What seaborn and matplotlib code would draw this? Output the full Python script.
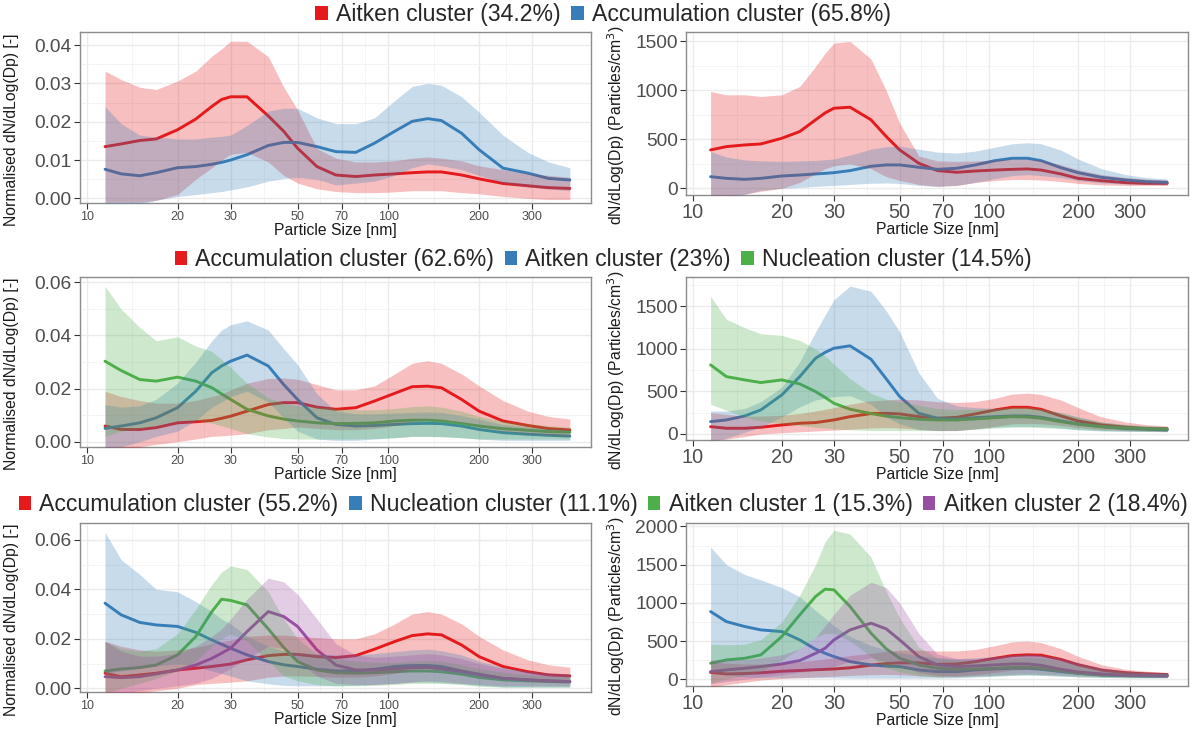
import numpy as np
import pandas as pd
import matplotlib
matplotlib.use("Agg")
import matplotlib.pyplot as plt
import seaborn as sns
from matplotlib.patches import Patch
from matplotlib.ticker import FixedLocator, FixedFormatter, NullFormatter

sns.set_theme(style="white")
plt.rcParams["font.family"] = ["Liberation Sans", "DejaVu Sans"]

# ---------------------------------------------------------------- data
size_nm = [11.5, 13, 15, 17, 20, 23, 26, 28, 30, 34, 40, 45, 50, 58, 67, 78,
           90, 105, 120, 135, 150, 175, 200, 240, 290, 340, 400]

x_breaks = [10, 20, 30, 50, 70, 100, 200, 300]

# --- two-cluster solution
k2_labels = ["Aitken cluster (34.2%)", "Accumulation cluster (65.8%)"]
k2_norm_aitken = [.0135, .0142, .0151, .0155, .0179, .0207, .024, .0258, .0265, .0265, .0215, .0175, .0131, .0083, .0061, .0057,
                  .0061, .0064, .0067, .0069, .0069, .0061, .0051, .0039, .0033, .0028, .0026]
k2_norm_aitken_hi = [.0332, .031, .029, .0284, .0306, .0332, .0371, .039, .041, .041, .037, .029, .0231, .013, .0105, .0095,
                     .0095, .0098, .0105, .0108, .0105, .0098, .0085, .0075, .0065, .006, .0055]
k2_norm_aitken_lo = [-.001, -.001, -.001, -.0005, .001, .005, .008, .010, .0115, .012, .0095, .006, .004, .0025, .0018, .0015,
                     .0015, .0017, .002, .002, .002, .0015, .0012, .0005, 0, -.0003, -.0003]
k2_norm_accum = [.0076, .0064, .0059, .0067, .008, .0083, .0089, .0094, .010, .0114, .0138, .0146, .0146, .0135, .0122, .012,
                 .0144, .0175, .0201, .0208, .0203, .017, .0127, .0079, .0066, .0052, .0048]
k2_norm_accum_hi = [.024, .0195, .0165, .016, .0155, .0155, .016, .0162, .0165, .019, .0228, .0235, .0235, .021, .0195, .0195,
                    .021, .0255, .0292, .030, .0295, .0265, .0225, .0165, .012, .0095, .008]
k2_norm_accum_lo = [-.006, -.004, -.0015, -.0005, .0005, .001, .0015, .0018, .0022, .003, .0045, .0052, .0055, .005, .0035, .004,
                    .0045, .006, .008, .009, .0085, .0075, .006, .004, .003, .0025, .002]

k2_abs_aitken = [392, 426, 443, 453, 511, 580, 699, 770, 818, 828, 700, 530, 392, 256, 181, 164,
                 177, 187, 194, 198, 187, 147, 102, 78, 58, 51, 51]
k2_abs_aitken_hi = [989, 955, 955, 938, 955, 1040, 1244, 1380, 1483, 1500, 1320, 1000, 665, 330, 280, 275,
                    280, 290, 300, 300, 290, 240, 190, 140, 110, 95, 85]
k2_abs_aitken_lo = [-80, -80, -60, -30, 0, 60, 150, 200, 230, 250, 200, 120, 80, 40, 20, 30,
                    60, 80, 90, 90, 85, 70, 50, 35, 30, 30, 30]
k2_abs_accum = [119, 102, 92, 102, 126, 136, 147, 153, 160, 181, 225, 239, 239, 215, 194, 205,
                239, 283, 307, 307, 283, 211, 160, 112, 85, 68, 61]
k2_abs_accum_hi = [375, 320, 290, 280, 275, 280, 285, 292, 300, 340, 400, 425, 430, 400, 370, 360,
                   380, 420, 455, 465, 455, 390, 300, 200, 140, 110, 95]
k2_abs_accum_lo = [-150, -120, -60, -20, 0, 10, 20, 25, 30, 40, 52, 55, 50, 30, 20, 30,
                   60, 100, 130, 140, 130, 110, 80, 55, 45, 40, 35]

# --- three-cluster solution
k3_labels = ["Accumulation cluster (62.6%)", "Aitken cluster (23%)", "Nucleation cluster (14.5%)"]
k3_norm_accum = [.0059, .0046, .0046, .0053, .0071, .0075, .008, .0088, .0096, .0115, .014, .0147, .0147, .013, .0122, .0128,
                 .0153, .0182, .0207, .0209, .0203, .0159, .0115, .0078, .0061, .0049, .0044]
k3_norm_accum_hi = [.019, .017, .0155, .0145, .0145, .0155, .017, .018, .0195, .022, .0238, .024, .0235, .0215, .0195, .0195,
                    .021, .0255, .0295, .0305, .0295, .0255, .021, .0155, .0115, .0095, .0085]
k3_norm_accum_lo = [-.005, -.004, -.002, -.001, 0, .001, .002, .0022, .0025, .003, .0045, .005, .0055, .005, .0045, .0045,
                    .005, .006, .0075, .008, .0078, .007, .0055, .004, .003, .0025, .002]
k3_norm_aitken = [.005, .0059, .0071, .009, .0128, .019, .026, .0285, .0303, .0326, .0285, .0215, .0159, .009, .0065, .0059,
                  .0061, .0065, .0068, .0069, .0068, .0059, .0046, .0034, .0028, .0024, .0021]
k3_norm_aitken_hi = [.014, .013, .0135, .016, .022, .030, .038, .042, .044, .0455, .042, .035, .029, .018, .0115, .0105,
                     .0105, .0108, .011, .0112, .011, .0098, .0085, .0065, .0055, .005, .0045]
k3_norm_aitken_lo = [-.003, -.002, 0, .002, .004, .008, .013, .015, .017, .019, .015, .009, .004, .001, .0005, .0005,
                     .001, .0015, .002, .002, .002, .0015, .001, .0005, .0005, .0005, .0005]
k3_norm_nucl = [.0303, .0268, .0234, .0228, .0243, .0228, .0203, .018, .0159, .0122, .0097, .0085, .0078, .0071, .0068, .0069,
                .0071, .0078, .0081, .0081, .0078, .0068, .0059, .0049, .0043, .0038, .0036]
k3_norm_nucl_hi = [.0585, .05, .043, .038, .0395, .036, .034, .031, .028, .022, .0165, .0145, .0135, .013, .0125, .012,
                   .012, .0125, .0132, .0135, .013, .0115, .0095, .0078, .0068, .006, .0055]
k3_norm_nucl_lo = [.002, .004, .005, .006, .008, .008, .007, .006, .005, .003, .0018, .0012, .001, .001, .001, .001,
                   .0012, .0015, .002, .002, .0018, .0015, .001, .001, .001, .001, .001]

k3_abs_accum = [86, 67, 67, 79, 106, 126, 134, 150, 165, 204, 240, 243, 236, 204, 185, 196,
                236, 283, 314, 314, 290, 212, 153, 106, 79, 63, 59]
k3_abs_accum_hi = [250, 230, 210, 210, 220, 240, 270, 290, 310, 350, 390, 400, 410, 400, 380, 370,
                   380, 420, 470, 480, 465, 400, 310, 200, 140, 110, 95]
k3_abs_accum_lo = [-80, -60, -30, 0, 15, 25, 35, 40, 45, 55, 70, 75, 70, 55, 40, 40,
                   60, 90, 120, 125, 120, 100, 75, 50, 40, 35, 30]
k3_abs_aitken = [145, 165, 212, 283, 459, 675, 891, 960, 1009, 1037, 880, 650, 440, 243, 185, 177,
                 192, 204, 212, 212, 196, 153, 118, 86, 63, 55, 47]
k3_abs_aitken_hi = [270, 270, 300, 380, 550, 850, 1200, 1400, 1580, 1740, 1680, 1450, 1200, 720, 420, 330,
                    310, 300, 300, 300, 290, 250, 200, 140, 110, 95, 85]
k3_abs_aitken_lo = [-100, -50, 20, 80, 200, 320, 400, 420, 440, 450, 350, 200, 120, 50, 40, 40,
                    60, 80, 90, 90, 85, 70, 50, 35, 30, 30, 25]
k3_abs_nucl = [813, 675, 636, 605, 636, 589, 499, 430, 361, 291, 240, 210, 192, 173, 165, 165,
               177, 192, 204, 200, 185, 145, 114, 86, 71, 63, 59]
k3_abs_nucl_hi = [1620, 1350, 1250, 1180, 1160, 1100, 1000, 920, 820, 650, 480, 410, 380, 340, 300, 290,
                  290, 300, 320, 320, 300, 250, 200, 140, 110, 95, 85]
k3_abs_nucl_lo = [350, 280, 200, 150, 120, 100, 80, 70, 60, 50, 40, 40, 40, 40, 40, 45,
                  55, 70, 80, 80, 75, 65, 50, 40, 35, 30, 30]

# --- four-cluster solution
k4_labels = ["Accumulation cluster (55.2%)", "Nucleation cluster (11.1%)",
             "Aitken cluster 1 (15.3%)", "Aitken cluster 2 (18.4%)"]
k4_norm_accum = [.0061, .0047, .0054, .0061, .0074, .0081, .0088, .0093, .0098, .0115, .0132, .0137, .0137, .0128, .0124, .0132,
                 .0158, .0189, .0213, .022, .0216, .0175, .0128, .0088, .0067, .0054, .005]
k4_norm_accum_hi = [.019, .017, .0155, .015, .0155, .0165, .018, .019, .0195, .021, .0215, .0215, .021, .0205, .020, .020,
                    .022, .026, .030, .031, .030, .026, .021, .0155, .0115, .0095, .0085]
k4_norm_accum_lo = [-.004, -.003, -.002, -.001, 0, .0015, .002, .0022, .0025, .003, .0045, .005, .005, .0048, .0045, .0045,
                    .005, .006, .0075, .008, .0078, .007, .0055, .004, .003, .0025, .002]
k4_norm_nucl = [.0344, .0297, .0266, .0256, .025, .0226, .0195, .0178, .0162, .0135, .0108, .0095, .0088, .0077, .007, .007,
                .0077, .0088, .0092, .0092, .0088, .007, .0057, .004, .0034, .003, .0027]
k4_norm_nucl_hi = [.063, .052, .046, .040, .039, .035, .031, .028, .026, .021, .017, .0152, .0145, .014, .0135, .0135,
                   .014, .0148, .0155, .0158, .0152, .0135, .011, .0085, .007, .0062, .0058]
k4_norm_nucl_lo = [.006, .007, .008, .009, .010, .009, .007, .006, .005, .003, .0018, .0012, .001, .001, .001, .0012,
                   .0015, .002, .0025, .0025, .0022, .0018, .0012, .0005, .0005, .0005, .0005]
k4_norm_ait1 = [.007, .0078, .0084, .0094, .0135, .0209, .031, .036, .0355, .0337, .024, .0165, .0108, .0074, .0063, .0061,
                .0063, .0067, .007, .007, .0067, .0057, .0044, .0034, .003, .0027, .0026]
k4_norm_ait1_hi = [.019, .016, .015, .016, .022, .032, .042, .047, .0495, .048, .039, .028, .020, .014, .012, .011,
                   .0105, .0105, .011, .0112, .011, .0095, .008, .0065, .0055, .005, .0048]
k4_norm_ait1_lo = [-.002, 0, .002, .004, .007, .011, .017, .020, .022, .019, .011, .005, .003, .0015, .001, .001,
                   .0012, .0015, .002, .002, .002, .0015, .0008, .0005, .0005, .0005, .0005]
k4_norm_ait2 = [.0047, .0043, .0047, .0058, .0074, .0094, .0121, .0142, .0162, .0229, .031, .029, .025, .0155, .0094, .0074,
                .0074, .0078, .0084, .0084, .0078, .0067, .0054, .004, .0034, .003, .0027]
k4_norm_ait2_hi = [.019, .015, .013, .013, .014, .017, .021, .024, .028, .036, .0445, .043, .038, .028, .018, .0135,
                   .0125, .013, .0135, .014, .0135, .012, .010, .008, .0065, .006, .0055]
k4_norm_ait2_lo = [-.003, -.002, -.001, 0, .001, .002, .004, .006, .008, .012, .017, .016, .011, .005, .002, .0015,
                   .0015, .002, .0025, .003, .0028, .002, .0015, .001, .001, .001, .001]

k4_abs_accum = [90, 70, 75, 85, 105, 115, 125, 130, 135, 150, 185, 205, 215, 215, 195, 200,
                230, 275, 310, 320, 315, 260, 190, 120, 85, 70, 62]
k4_abs_accum_hi = [230, 210, 200, 200, 210, 230, 250, 265, 280, 310, 340, 365, 380, 380, 370, 370,
                   390, 440, 490, 500, 480, 400, 300, 190, 130, 105, 90]
k4_abs_accum_lo = [-100, -70, -40, -10, 10, 20, 30, 35, 40, 50, 60, 63, 60, 45, 35, 40,
                   60, 90, 120, 130, 125, 100, 75, 50, 40, 35, 30]
k4_abs_nucl = [886, 755, 690, 646, 624, 515, 393, 340, 297, 231, 188, 172, 166, 122, 100, 100,
               122, 135, 144, 144, 131, 100, 79, 57, 48, 44, 44]
k4_abs_nucl_hi = [1730, 1500, 1370, 1300, 1200, 1080, 900, 800, 700, 560, 440, 390, 350, 310, 280, 270,
                  280, 300, 320, 330, 320, 280, 220, 150, 110, 95, 85]
k4_abs_nucl_lo = [100, 60, 30, 20, 20, 20, 20, 20, 20, 15, 15, 15, 15, 15, 15, 20,
                  30, 40, 50, 55, 50, 40, 30, 25, 20, 20, 20]
k4_abs_ait1 = [210, 253, 275, 319, 559, 843, 1083, 1179, 1170, 952, 603, 400, 275, 188, 144, 131,
               135, 144, 157, 157, 144, 109, 79, 57, 48, 44, 44]
k4_abs_ait1_hi = [460, 450, 460, 520, 750, 1100, 1500, 1800, 1950, 1900, 1600, 1150, 800, 420, 280, 250,
                  250, 260, 280, 290, 280, 240, 190, 130, 100, 85, 80]
k4_abs_ait1_lo = [-50, 0, 50, 100, 250, 400, 550, 600, 600, 500, 300, 150, 100, 50, 30, 30,
                  35, 45, 55, 60, 55, 45, 35, 25, 20, 20, 20]
k4_abs_ait2 = [100, 122, 144, 166, 201, 245, 340, 406, 515, 646, 734, 660, 515, 297, 188, 166,
               175, 188, 201, 201, 183, 131, 96, 70, 52, 48, 44]
k4_abs_ait2_hi = [250, 250, 260, 280, 320, 400, 550, 700, 850, 1100, 1270, 1200, 1000, 600, 330, 270,
                  270, 290, 310, 320, 310, 260, 200, 140, 105, 90, 80]
k4_abs_ait2_lo = [-60, -30, 0, 30, 60, 90, 120, 140, 170, 230, 280, 230, 180, 90, 50, 40,
                  45, 55, 65, 70, 65, 55, 45, 35, 30, 25, 25]

# ---------------------------------------------------------------- style
SET1 = ["#E41A1C", "#377EB8", "#4DAF4A", "#984EA3"]
W, H = 1196, 735
GRID_MAJOR = "#EBEBEB"
GRID_MINOR = "#F3F3F3"
BORDER = "#8C8C8C"
TICKTXT = "#4D4D4D"


def box(l, t, r, b):
    return [l / W, 1 - b / H, (r - l) / W, (b - t) / H]


def draw_panel(ax, series, labels, ylim, yticks, yminor, ytick_fmt, small_x):
    ax.set_xscale("log")
    long = []
    for lab, (mean, lo, hi) in zip(labels, series):
        long.append(pd.DataFrame({"size": size_nm, "value": mean, "cluster": lab}))
    df = pd.concat(long, ignore_index=True)
    pal = dict(zip(labels, SET1[:len(labels)]))
    sns.lineplot(data=df, x="size", y="value", hue="cluster", palette=pal,
                 estimator=None, sort=False, lw=2.1, legend=False, ax=ax, zorder=3)
    for lab, (mean, lo, hi) in zip(labels, series):
        ax.fill_between(size_nm, lo, hi, color=pal[lab], alpha=0.28, lw=0, zorder=4)

    ax.set_xlim(9.5, 470)
    ax.set_ylim(*ylim)
    minor_x = [np.sqrt(a * b) for a, b in zip(x_breaks[:-1], x_breaks[1:])]
    ax.xaxis.set_major_locator(FixedLocator(x_breaks))
    ax.xaxis.set_major_formatter(FixedFormatter([str(v) for v in x_breaks]))
    ax.xaxis.set_minor_locator(FixedLocator(minor_x))
    ax.xaxis.set_minor_formatter(NullFormatter())
    ax.yaxis.set_major_locator(FixedLocator(yticks))
    ax.yaxis.set_major_formatter(FixedFormatter([ytick_fmt(v) for v in yticks]))
    ax.yaxis.set_minor_locator(FixedLocator(yminor))

    ax.grid(which="major", color=GRID_MAJOR, lw=1.0, zorder=0)
    ax.grid(which="minor", color=GRID_MINOR, lw=0.6, zorder=0)
    ax.set_axisbelow(True)
    for s in ax.spines.values():
        s.set_color(BORDER)
        s.set_linewidth(1.0)
    ax.tick_params(axis="both", which="major", length=4, width=0.8, color="#333333",
                   direction="out", bottom=True, left=True)
    ax.tick_params(axis="both", which="minor", length=0)
    ax.tick_params(axis="y", labelsize=13.8, labelcolor=TICKTXT, pad=2)
    ax.tick_params(axis="x", labelsize=9 if small_x else 14.3, labelcolor=TICKTXT, pad=2)
    ax.set_xlabel("Particle Size [nm]", fontsize=11.3, color="#1A1A1A", labelpad=0)
    ax.set_ylabel("")


fig = plt.figure(figsize=(W / 100, H / 100), dpi=100)
fig.patch.set_facecolor("white")

# panel rectangles in pixels: (top, bottom) for the left and right column
left_rows = [(32, 203), (277, 447), (523, 692)]
right_rows = [(32, 195), (277, 440), (523, 686)]
legend_y = [15, 260, 505]
left_x = (80, 591)
right_x = (686, 1188)

norm_fmt = lambda v: f"{v:.2f}"
abs_fmt = lambda v: f"{int(v)}"

panels = [
    (k2_labels,
     [(k2_norm_aitken, k2_norm_aitken_lo, k2_norm_aitken_hi), (k2_norm_accum, k2_norm_accum_lo, k2_norm_accum_hi)],
     [(k2_abs_aitken, k2_abs_aitken_lo, k2_abs_aitken_hi), (k2_abs_accum, k2_abs_accum_lo, k2_abs_accum_hi)],
     (-0.0012, 0.0434), [0, .01, .02, .03, .04], [.005, .015, .025, .035],
     (-68, 1596), [0, 500, 1000, 1500], [250, 750, 1250]),
    (k3_labels,
     [(k3_norm_accum, k3_norm_accum_lo, k3_norm_accum_hi), (k3_norm_aitken, k3_norm_aitken_lo, k3_norm_aitken_hi),
      (k3_norm_nucl, k3_norm_nucl_lo, k3_norm_nucl_hi)],
     [(k3_abs_accum, k3_abs_accum_lo, k3_abs_accum_hi), (k3_abs_aitken, k3_abs_aitken_lo, k3_abs_aitken_hi),
      (k3_abs_nucl, k3_abs_nucl_lo, k3_abs_nucl_hi)],
     (-0.002, 0.062), [0, .02, .04, .06], [.01, .03, .05],
     (-71, 1847), [0, 500, 1000, 1500], [250, 750, 1250, 1750]),
    (k4_labels,
     [(k4_norm_accum, k4_norm_accum_lo, k4_norm_accum_hi), (k4_norm_nucl, k4_norm_nucl_lo, k4_norm_nucl_hi),
      (k4_norm_ait1, k4_norm_ait1_lo, k4_norm_ait1_hi), (k4_norm_ait2, k4_norm_ait2_lo, k4_norm_ait2_hi)],
     [(k4_abs_accum, k4_abs_accum_lo, k4_abs_accum_hi), (k4_abs_nucl, k4_abs_nucl_lo, k4_abs_nucl_hi),
      (k4_abs_ait1, k4_abs_ait1_lo, k4_abs_ait1_hi), (k4_abs_ait2, k4_abs_ait2_lo, k4_abs_ait2_hi)],
     (-0.0015, 0.0668), [0, .02, .04, .06], [.01, .03, .05],
     (-88, 2045), [0, 500, 1000, 1500, 2000], [250, 750, 1250, 1750]),
]

for (lt, lb), (rt, rb), ly, (labels, norm_s, abs_s, nyl, nyt, nym, ayl, ayt, aym) in zip(
        left_rows, right_rows, legend_y, panels):
    axl = fig.add_axes(box(left_x[0], lt, left_x[1], lb))
    draw_panel(axl, norm_s, labels, nyl, nyt, nym, norm_fmt, small_x=True)
    axr = fig.add_axes(box(right_x[0], rt, right_x[1], rb))
    draw_panel(axr, abs_s, labels, ayl, ayt, aym, abs_fmt, small_x=False)

    fig.text(12 / W, 1 - ((lt + lb) / 2 + 12) / H, "Normalised dN/dLog(Dp) [-]", rotation=90,
             ha="center", va="center", fontsize=11.3, color="#1A1A1A")
    fig.text(616 / W, 1 - ((rt + rb) / 2 + 12) / H, "dN/dLog(Dp) (Particles/cm$^3$)", rotation=90,
             ha="center", va="center", fontsize=11.3, color="#1A1A1A")

    handles = [Patch(facecolor=c, edgecolor="none") for c in SET1[:len(labels)]]
    fig.legend(handles, labels, loc="center", bbox_to_anchor=(603 / W, 1 - ly / H),
               ncol=len(labels), frameon=False, fontsize=16.6, handlelength=0.55, handleheight=0.55,
               handletextpad=0.35, columnspacing=0.45, borderpad=0, borderaxespad=0)

fig.savefig("out.png", dpi=100, facecolor="white")
